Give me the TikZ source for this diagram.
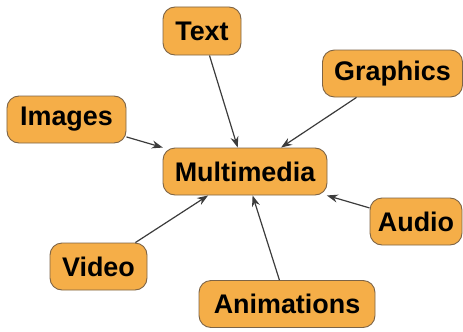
\documentclass[tikz,border=0pt]{standalone}
\usepackage{fontspec}
\setmainfont{Liberation Sans}
\usetikzlibrary{arrows.meta}
\definecolor{boxfill}{RGB}{245,174,72}
\definecolor{boxline}{RGB}{125,100,70}
\definecolor{arr}{RGB}{60,60,60}
\tikzset{
  topic/.style={draw=boxline, line width=0.9bp, fill=boxfill, rounded corners=12bp,
    minimum height=47bp, inner sep=0pt, font=\fontsize{27}{30}\selectfont\bfseries},
  link/.style={draw=arr, line width=1.2bp, -{Stealth[length=11bp,width=8bp]}}
}
\begin{document}
\begin{tikzpicture}[x=1bp,y=1bp]
\useasboundingbox (0,0) rectangle (463,331);
\node[topic, minimum width=164bp] (mm) at (245,159.5) {Multimedia};
\node[topic, minimum width=78bp, minimum height=48bp] (text) at (202,300) {Text};
\node[topic, minimum width=119bp] (img) at (66.5,211.5) {Images};
\node[topic, minimum width=140bp] (gfx) at (392.5,257.5) {Graphics};
\node[topic, minimum width=92bp] (aud) at (416,109.5) {Audio};
\node[topic, minimum width=97bp] (vid) at (98.5,64.5) {Video};
\node[topic, minimum width=176bp] (ani) at (287,27) {Animations};
\foreach \s in {text,img,gfx,aud,vid,ani}
  \draw[link] (\s) -- (mm);
\end{tikzpicture}
\end{document}
